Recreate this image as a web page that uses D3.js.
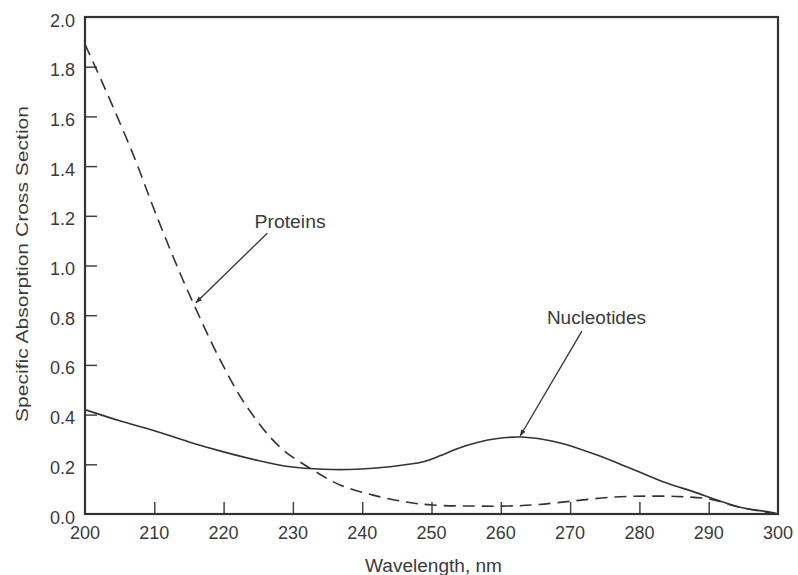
<!DOCTYPE html>
<html>
<head>
<meta charset="utf-8">
<script src="https://cdn.jsdelivr.net/npm/d3@7"></script>
<style>
  html, body { margin: 0; padding: 0; background: #fff; }
  svg { display: block; }
  text { font-family: "Liberation Sans", Arial, Helvetica, sans-serif; fill: #3a3a3a; }
</style>
</head>
<body>
<svg id="chart" width="798" height="575"></svg>
<script>
// ---- data ----
const xTicks = [200, 210, 220, 230, 240, 250, 260, 270, 280, 290, 300];
const yTicks = [0.0, 0.2, 0.4, 0.6, 0.8, 1.0, 1.2, 1.4, 1.6, 1.8, 2.0];

const proteinWavelength = [200, 202.6, 206.9, 210.4, 213.7, 215.6, 219.5, 223.4, 228.1, 232.9, 236.8, 241.6, 246.4, 250.2, 256, 261, 265, 270.3, 276.2, 281, 285.9, 290.2, 294, 297.8, 300];
const proteinValue      = [1.89, 1.73, 1.45, 1.195, 0.97, 0.85, 0.62, 0.43, 0.27, 0.177, 0.117, 0.076, 0.048, 0.036, 0.032, 0.032, 0.037, 0.052, 0.068, 0.072, 0.07, 0.06, 0.03, 0.01, 0.0];

const nucleotideWavelength = [200, 205, 210, 215, 220, 225, 229.6, 234.4, 239.2, 244, 248.8, 251.2, 253.7, 256.6, 259.5, 262.8, 266, 269, 273.9, 278.6, 283.4, 288.3, 291.2, 295, 298.8, 300];
const nucleotideValue      = [0.42, 0.375, 0.335, 0.29, 0.25, 0.215, 0.19, 0.18, 0.18, 0.19, 0.21, 0.234, 0.263, 0.288, 0.304, 0.31, 0.301, 0.283, 0.237, 0.185, 0.13, 0.085, 0.056, 0.024, 0.008, 0.0];

// annotations in data coordinates: label position, arrow start, arrow tip
const annotationLabels = ["Proteins", "Nucleotides"];
const annotationText   = [[229.6, 1.151], [273.8, 0.765]];
const annotationFrom   = [[226.3, 1.13], [271.7, 0.736]];
const annotationTo     = [[216.0, 0.85], [262.8, 0.314]];
const annotationWidth  = [71, 99];

const xLabel = "Wavelength, nm";
const yLabel = "Specific Absorption Cross Section";

// ---- chart ----
const svg = d3.select("#chart");
const x = d3.scaleLinear().domain([200, 300]).range([85, 778]);
const y = d3.scaleLinear().domain([0, 2]).range([514, 17]);
const ink = "#333";

svg.append("defs").append("marker")
  .attr("id", "arrow")
  .attr("viewBox", "0 0 10 10")
  .attr("refX", 9).attr("refY", 5)
  .attr("markerWidth", 7).attr("markerHeight", 7)
  .attr("markerUnits", "userSpaceOnUse")
  .attr("orient", "auto")
  .append("path").attr("d", "M0,1.5 L10,5 L0,8.5 Z").attr("fill", ink);

// ticks (inward)
const xAxis = d3.axisBottom(x).tickValues(xTicks.slice(1, -1)).tickSize(-12).tickFormat("");
const yAxis = d3.axisLeft(y).tickValues(yTicks.slice(1, -1)).tickSize(-12).tickFormat("");
svg.append("g").attr("transform", `translate(0,${y(0)})`).call(xAxis)
  .call(g => g.select(".domain").remove())
  .call(g => g.selectAll("line").attr("stroke", "#444").attr("stroke-width", 1.5));
svg.append("g").attr("transform", `translate(${x(200)},0)`).call(yAxis)
  .call(g => g.select(".domain").remove())
  .call(g => g.selectAll("line").attr("stroke", "#444").attr("stroke-width", 1.5));

// tick labels
svg.append("g").selectAll("text").data(xTicks).join("text")
  .attr("x", d => x(d)).attr("y", y(0) + 25)
  .attr("text-anchor", "middle").attr("font-size", 18)
  .text(d => d);
svg.append("g").selectAll("text").data(yTicks).join("text")
  .attr("x", x(200) - 10).attr("y", d => y(d) + 9.5)
  .attr("text-anchor", "end").attr("font-size", 18)
  .text(d => d.toFixed(1));

// frame
svg.append("rect")
  .attr("x", x(200)).attr("y", y(2))
  .attr("width", x(300) - x(200)).attr("height", y(0) - y(2))
  .attr("fill", "none").attr("stroke", ink).attr("stroke-width", 2.2);

// curves
const line = d3.line().x(d => x(d[0])).y(d => y(d[1])).curve(d3.curveCatmullRom.alpha(0.5));
svg.append("path")
  .datum(d3.zip(nucleotideWavelength, nucleotideValue))
  .attr("d", line).attr("fill", "none").attr("stroke", ink).attr("stroke-width", 1.6);
svg.append("path")
  .datum(d3.zip(proteinWavelength, proteinValue))
  .attr("d", line).attr("fill", "none").attr("stroke", ink).attr("stroke-width", 1.6)
  .attr("stroke-dasharray", "12,7");

// annotations
annotationLabels.forEach((label, i) => {
  svg.append("line")
    .attr("x1", x(annotationFrom[i][0])).attr("y1", y(annotationFrom[i][1]))
    .attr("x2", x(annotationTo[i][0])).attr("y2", y(annotationTo[i][1]))
    .attr("stroke", ink).attr("stroke-width", 1.3)
    .attr("marker-end", "url(#arrow)");
  svg.append("text")
    .attr("x", x(annotationText[i][0]) - annotationWidth[i] / 2).attr("y", y(annotationText[i][1]))
    .attr("font-size", 18)
    .attr("textLength", annotationWidth[i]).attr("lengthAdjust", "spacingAndGlyphs")
    .text(label);
});

// axis titles
svg.append("text")
  .attr("x", 365).attr("y", 572)
  .attr("font-size", 18)
  .attr("textLength", 137).attr("lengthAdjust", "spacingAndGlyphs")
  .text(xLabel);
svg.append("text")
  .attr("transform", `translate(28,${264}) rotate(-90)`)
  .attr("text-anchor", "middle").attr("font-size", 17)
  .attr("textLength", 316).attr("lengthAdjust", "spacingAndGlyphs")
  .text(yLabel);
</script>
</body>
</html>
